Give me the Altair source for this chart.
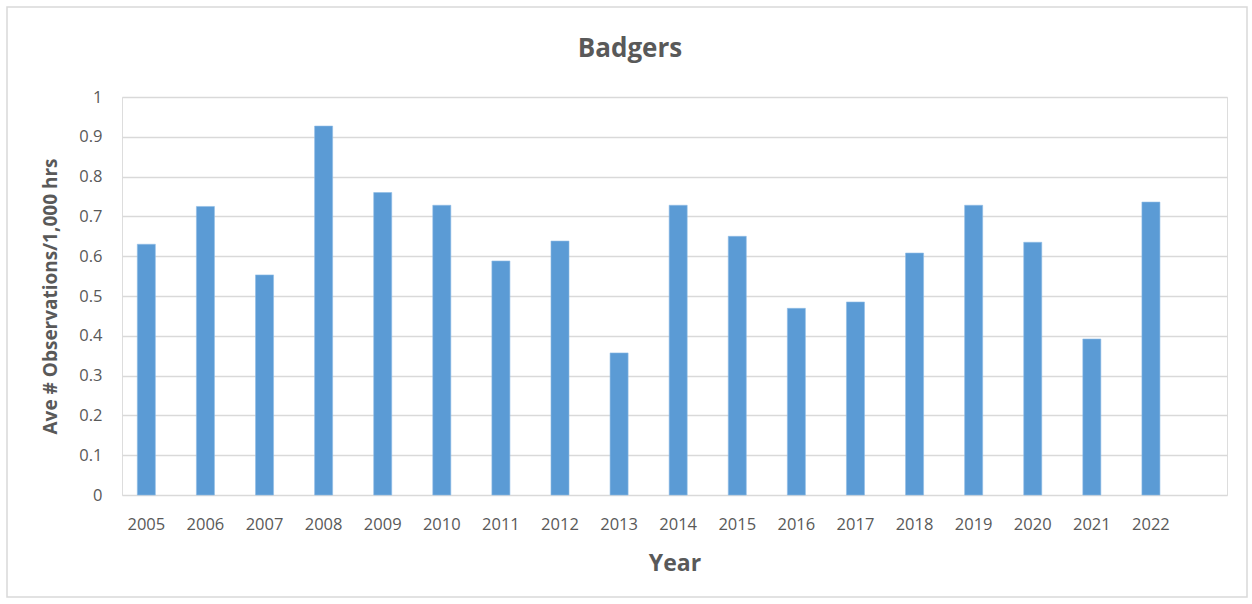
import altair as alt
import pandas as pd

years = [str(y) for y in range(2005, 2023)]
values = [0.63, 0.725, 0.553, 0.927, 0.760, 0.728, 0.588, 0.638, 0.357,
          0.728, 0.650, 0.469, 0.485, 0.608, 0.728, 0.635, 0.392, 0.736]
y_ticks = [0, 0.1, 0.2, 0.3, 0.4, 0.5, 0.6, 0.7, 0.8, 0.9, 1.0]
title_text = ["Badgers"]

df = pd.DataFrame({"Year": years, "Value": values})

FONT = "Open Sans"
GREY = "#595959"

bars = alt.Chart(df).mark_bar(color="#5b9bd5", stroke="#8fbce6", strokeWidth=0.6).encode(
    x=alt.X("Year:N", sort=years,
            scale=alt.Scale(paddingInner=0.695, paddingOuter=0.697, align=0.186),
            axis=alt.Axis(title="Year", labelAngle=0, domain=False, ticks=False,
                          labelPadding=21, labelFontSize=16.5, labelColor=GREY,
                          titleFontSize=23, titleFontWeight="bold", titleColor=GREY,
                          titlePadding=20, labelFont=FONT, titleFont=FONT)),
    y=alt.Y("Value:Q", scale=alt.Scale(domain=[0, 1], nice=False),
            axis=alt.Axis(title="Ave # Observations/1,000 hrs", values=y_ticks,
                          format=".1~f", domain=False, ticks=False, labelPadding=20,
                          labelFontSize=16.5, labelColor=GREY, titleFontSize=19,
                          titleFontWeight="bold", titleColor=GREY, titlePadding=18,
                          gridColor="#d9d9d9", gridWidth=1.5,
                          labelFont=FONT, titleFont=FONT)),
)

border = alt.Chart(pd.DataFrame({"a": [0]})).mark_rect(
    fill=None, stroke="#d9d9d9", strokeWidth=1.5
).encode(
    x=alt.value(-115), x2=alt.value(1125), y=alt.value(-90), y2=alt.value(500)
)

title = alt.Chart(pd.DataFrame({"t": title_text})).mark_text(
    font=FONT, fontSize=26, fontWeight="bold", color=GREY,
    align="center", baseline="alphabetic"
).encode(text="t:N", x=alt.value(508), y=alt.value(-40))

chart = alt.layer(border, bars, title).properties(
    width=1105, height=398,
    autosize=alt.AutoSizeParams(type="none"),
    padding={"left": 122, "top": 97, "right": 25, "bottom": 109},
).configure_view(stroke=None).configure(background="white")

chart.save("out.html", embed_options={"renderer": "svg", "actions": False})
